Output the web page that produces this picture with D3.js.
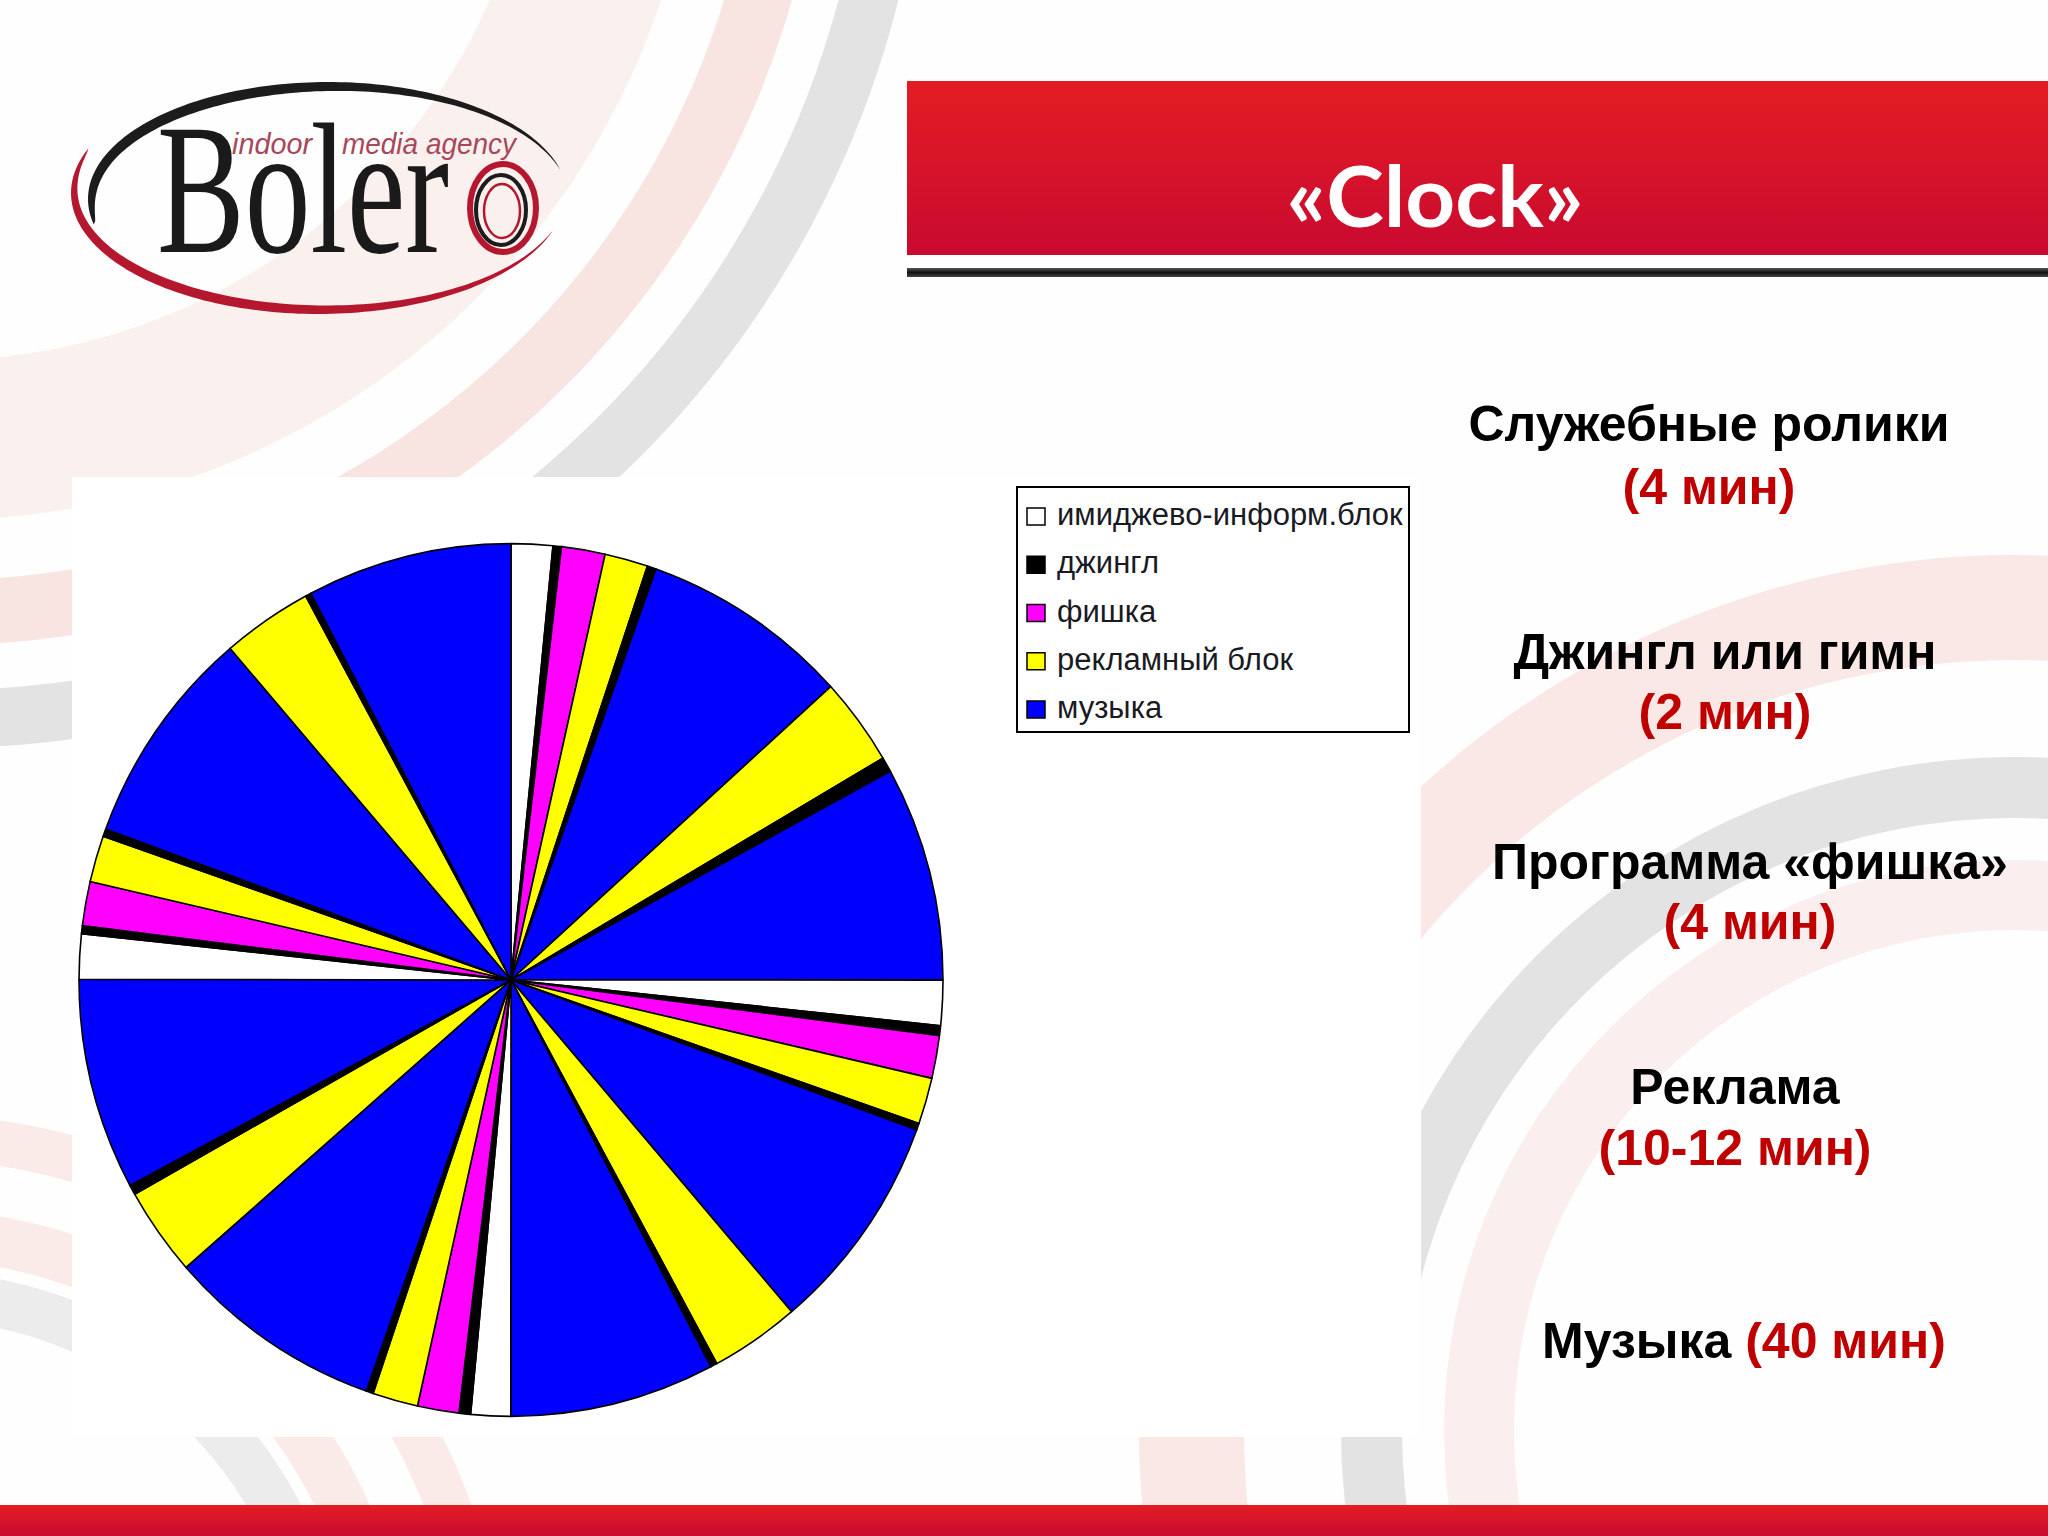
<!DOCTYPE html>
<html><head><meta charset="utf-8">
<script src="https://cdn.jsdelivr.net/npm/d3@7"></script>
<style>html,body{margin:0;padding:0;background:#fff;}svg{display:block}</style>
</head><body>
<svg id="c" width="2048" height="1536"></svg>
<script>
// ---------------- DATA ----------------
const categories = ["имиджево-информ.блок", "джингл", "фишка", "рекламный блок", "музыка"];
const categoryColors = ["#ffffff", "#000000", "#ff00ff", "#ffff00", "#0000ff"];
// slices clockwise from 12 o'clock (index into categories)
const sliceCategory = [
  0,1,2,3,1,4,3,1,4,
  0,1,2,3,1,4,3,1,4,
  0,1,2,3,1,4,3,1,4,
  0,1,2,3,1,4,3,1,4
];
// slice durations in minutes
const sliceMinutes = [
  0.93,0.19,0.98,0.97,0.20,4.69,1.95,0.33,4.77,
  1.00,0.22,0.95,1.03,0.15,4.90,2.01,0.15,4.60,
  0.89,0.26,0.93,1.02,0.16,4.87,1.97,0.22,4.70,
  1.00,0.18,0.98,1.03,0.17,4.87,2.03,0.13,4.60
];
const titleText = "«Clock»";
const noteLabels = ["Служебные ролики", "Джингл или гимн", "Программа «фишка»", "Реклама", "Музыка "];
const noteValues = ["(4 мин)", "(2 мин)", "(4 мин)", "(10-12 мин)", "(40 мин)"];

// ---------------- DRAW ----------------
const svg = d3.select("#c");
const defs = svg.append("defs");
const g1 = defs.append("linearGradient").attr("id","redbar").attr("x1",0).attr("y1",0).attr("x2",0).attr("y2",1);
g1.append("stop").attr("offset","0%").attr("stop-color","#e31d23");
g1.append("stop").attr("offset","100%").attr("stop-color","#c90a30");
const g2 = defs.append("linearGradient").attr("id","darkline").attr("x1",0).attr("y1",0).attr("x2",0).attr("y2",1);
g2.append("stop").attr("offset","0%").attr("stop-color","#555");
g2.append("stop").attr("offset","50%").attr("stop-color","#111");
g2.append("stop").attr("offset","100%").attr("stop-color","#444");

svg.append("rect").attr("width",2048).attr("height",1536).attr("fill","#fefefe");

// background decorative rings
const ringArc = d3.arc().startAngle(0).endAngle(2*Math.PI);
const rings = [
  {cx:-60, cy:-240, r0:600, r1:760, col:"#f6dcd8", op:0.4},
  {cx:-60, cy:-240, r0:820, r1:885, col:"#f4d3ce", op:0.6},
  {cx:-60, cy:-240, r0:930, r1:988, col:"#d9d9d9", op:0.75},
  {cx:2014, cy:1430, r0:500, r1:570, col:"#f7dedb", op:0.45},
  {cx:2014, cy:1430, r0:612, r1:673, col:"#dadada", op:0.75},
  {cx:2014, cy:1430, r0:770, r1:875, col:"#f5d8d4", op:0.6},
  {cx:-80, cy:1700, r0:380, r1:428, col:"#dadada", op:0.5},
  {cx:-80, cy:1700, r0:440, r1:490, col:"#f5d8d4", op:0.5},
  {cx:-80, cy:1700, r0:540, r1:585, col:"#f5d8d4", op:0.5}
];
svg.append("g").selectAll("path").data(rings).join("path")
  .attr("transform", d => `translate(${d.cx},${d.cy})`)
  .attr("d", d => ringArc({innerRadius:d.r0, outerRadius:d.r1}))
  .attr("fill", d => d.col).attr("opacity", d => d.op);

// white chart image area
svg.append("rect").attr("x",72).attr("y",477).attr("width",1349).attr("height",960).attr("fill","#ffffff");

// title bar
svg.append("rect").attr("x",907).attr("y",81).attr("width",1141).attr("height",174).attr("fill","url(#redbar)");
svg.append("rect").attr("x",907).attr("y",268).attr("width",1141).attr("height",9).attr("fill","url(#darkline)");
svg.append("text").attr("x",1435).attr("y",227).attr("text-anchor","middle")
  .attr("font-family","Lato, 'Open Sans', sans-serif").attr("font-weight",700).attr("font-size",84)
  .attr("fill","#fff").attr("textLength",297).attr("lengthAdjust","spacingAndGlyphs").text(titleText);

// bottom bar
svg.append("rect").attr("x",0).attr("y",1505).attr("width",2048).attr("height",31).attr("fill","url(#redbar)");

// ---------- logo ----------
const logo = svg.append("g");
function swoosh(cx, cy, rx, ry, t0, t1, wmax, skew, col) {
  const n = 120, outer = [], inner = [];
  for (let i = 0; i <= n; i++) {
    const u = i / n;
    const t = t0 + (t1 - t0) * u;
    const w = wmax * Math.pow(Math.sin(Math.PI * Math.pow(u, skew)), 0.8);
    outer.push([cx + rx * Math.cos(t), cy + ry * Math.sin(t)]);
    inner.push([cx + (rx - w) * Math.cos(t), cy + (ry - w) * Math.sin(t)]);
  }
  const pts = outer.concat(inner.reverse());
  logo.append("path").attr("d", d3.line()(pts) + "Z").attr("fill", col);
}
swoosh(328, 199, 240, 117, 0.93*Math.PI, 1.92*Math.PI, 11, 0.6, "#1c1c1c");
swoosh(318, 193, 247, 121, 1.12*Math.PI, 0.10*Math.PI, 10, 0.75, "#b5182e");
logo.append("text").attr("x",157).attr("y",252)
  .attr("font-family","'Liberation Serif', 'DejaVu Serif', serif").attr("font-size",186)
  .attr("fill","#1a1a1a").attr("textLength",292).attr("lengthAdjust","spacingAndGlyphs").text("Boler");
logo.append("ellipse").attr("cx",503).attr("cy",208).attr("rx",33).attr("ry",44).attr("fill","none").attr("stroke","#b5182e").attr("stroke-width",6);
logo.append("ellipse").attr("cx",501).attr("cy",210).attr("rx",25).attr("ry",35).attr("fill","none").attr("stroke","#1c1c1c").attr("stroke-width",4);
logo.append("ellipse").attr("cx",502).attr("cy",211).attr("rx",18).attr("ry",27).attr("fill","none").attr("stroke","#b5182e").attr("stroke-width",2.5);
logo.append("text").attr("x",232).attr("y",154).attr("font-family","'Liberation Sans', sans-serif").attr("font-style","italic")
  .attr("font-size",29).attr("fill","#a8475a").attr("textLength",80).attr("lengthAdjust","spacingAndGlyphs").text("indoor");
logo.append("text").attr("x",342).attr("y",154).attr("font-family","'Liberation Sans', sans-serif").attr("font-style","italic")
  .attr("font-size",29).attr("fill","#a8475a").attr("textLength",174).attr("lengthAdjust","spacingAndGlyphs").text("media agency");

// ---------- pie ----------
const color = d3.scaleOrdinal().domain(d3.range(categories.length)).range(categoryColors);
const slices = sliceMinutes.map((v, i) => ({v: v, c: sliceCategory[i]}));
const pie = d3.pie().sort(null).value(d => d.v).startAngle(0).endAngle(2 * Math.PI);
const arc = d3.arc().innerRadius(0).outerRadius(432);
svg.append("g").attr("transform","translate(511,980) scale(1,1.01)")
  .selectAll("path").data(pie(slices)).join("path")
  .attr("d", arc).attr("fill", d => color(d.data.c))
  .attr("stroke","#000").attr("stroke-width",1.6).attr("stroke-linejoin","round");

// ---------- legend ----------
const lg = svg.append("g");
lg.append("rect").attr("x",1017).attr("y",487).attr("width",392).attr("height",245)
  .attr("fill","#fff").attr("stroke","#000").attr("stroke-width",2);
const rowY = d3.scalePoint().domain(d3.range(categories.length)).range([525, 718]);
const items = lg.selectAll("g.item").data(categories).join("g").attr("class","item")
  .attr("transform", (d, i) => `translate(0,${rowY(i)})`);
items.append("rect").attr("x",1027).attr("y",-17).attr("width",18).attr("height",17)
  .attr("fill", (d, i) => color(i)).attr("stroke","#000").attr("stroke-width",1.5);
items.append("text").attr("x",1057).attr("y",0).attr("font-family","'Liberation Sans', Arial, sans-serif")
  .attr("font-size",31).attr("fill","#1a1a24").text(d => d);

// ---------- notes ----------
const notePos = [
  {x:1709, y1:441, y2:504},
  {x:1725, y1:669, y2:729},
  {x:1750, y1:879, y2:939},
  {x:1735, y1:1104, y2:1165},
  {x:1744, y1:1358, y2:null}
];
const notes = svg.append("g").attr("font-family","'Liberation Sans', Arial, sans-serif").attr("font-weight",700).attr("font-size",50);
noteLabels.forEach((lab, i) => {
  const p = notePos[i];
  if (p.y2 !== null) {
    notes.append("text").attr("x",p.x).attr("y",p.y1).attr("text-anchor","middle").attr("fill","#000").text(lab);
    notes.append("text").attr("x",p.x).attr("y",p.y2).attr("text-anchor","middle").attr("fill","#c00000").text(noteValues[i]);
  } else {
    const t = notes.append("text").attr("x",p.x).attr("y",p.y1).attr("text-anchor","middle");
    t.append("tspan").attr("fill","#000").text(lab);
    t.append("tspan").attr("fill","#c00000").text(noteValues[i]);
  }
});
</script>
</body></html>
